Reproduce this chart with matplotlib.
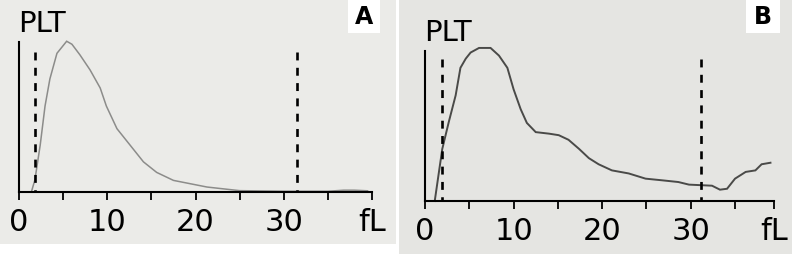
import matplotlib
matplotlib.use("Agg")
import matplotlib.pyplot as plt
from matplotlib.patches import Rectangle

# panel A: PLT histogram, relative height vs volume (fL)
a_x = [1.4, 1.8, 2.4, 2.95, 3.5, 4.3, 5.4, 6.0, 6.9, 8.05, 9.2, 9.9, 11.1, 12.6,
       14.1, 15.6, 17.5, 19.4, 21.3, 23.6, 25.0, 30.0, 35.0, 36.8, 38.0, 39.5]
a_y = [0.0, 0.08, 0.31, 0.57, 0.75, 0.92, 1.0, 0.98, 0.91, 0.81, 0.69, 0.57, 0.42, 0.31,
       0.20, 0.13, 0.077, 0.055, 0.033, 0.018, 0.009, 0.005, 0.005, 0.012, 0.012, 0.008]
a_marks = [1.8, 31.5]

# panel B
b_x = [1.1, 1.95, 2.7, 3.46, 4.0, 4.6, 5.15, 6.1, 7.4, 8.35, 9.3, 10.0, 10.8, 11.5,
       12.5, 14.0, 15.1, 16.2, 17.4, 18.5, 19.6, 21.1, 23.0, 24.9, 26.8, 28.6, 29.8,
       32.4, 33.3, 34.1, 35.0, 36.2, 37.3, 38.0, 39.0]
b_y = [0.0, 0.34, 0.52, 0.69, 0.87, 0.93, 0.97, 1.0, 1.0, 0.95, 0.87, 0.73, 0.60, 0.51,
       0.45, 0.44, 0.43, 0.40, 0.34, 0.28, 0.24, 0.20, 0.18, 0.146, 0.135, 0.124, 0.107,
       0.10, 0.074, 0.08, 0.146, 0.19, 0.20, 0.24, 0.25]
b_marks = [1.95, 31.2]

tick_pos = [0, 5, 10, 15, 20, 25, 30, 35]
tick_lab = ["0", "", "10", "", "20", "", "30", ""]

W, H = 792, 255
fig = plt.figure(figsize=(W / 100, H / 100), dpi=100)
fig.patch.set_facecolor("white")

FONT = ["DejaVu Sans Condensed", "DejaVu Sans"]


def px_box(x0, y0, x1, y1):
    # pixel box (top-left origin) -> figure fraction rect
    return [x0 / W, 1 - y1 / H, (x1 - x0) / W, (y1 - y0) / H]


def panel(bg_box, bg_color, ax_box, xmax, ymax, xs, ys, marks, line_color, lw,
          letter, letter_box, plt_xy):
    bg = fig.add_axes(px_box(*bg_box))
    bg.set_facecolor(bg_color)
    bg.set_xticks([])
    bg.set_yticks([])
    for s in bg.spines.values():
        s.set_visible(False)

    ax = fig.add_axes(px_box(*ax_box))
    ax.set_facecolor("none")
    ax.plot(xs, ys, color=line_color, lw=lw, clip_on=False, solid_joinstyle="miter")
    for m in marks:
        ax.plot([m, m], [0.93, 0], color="black", lw=1.9, ls=(0, (3.0, 2.8)))
    ax.set_xlim(0, xmax)
    ax.set_ylim(0, ymax)
    ax.spines["top"].set_visible(False)
    ax.spines["right"].set_visible(False)
    ax.spines["left"].set_linewidth(1.5)
    ax.spines["bottom"].set_linewidth(1.5)
    ax.set_yticks([])
    ax.set_xticks(tick_pos + [xmax])
    ax.set_xticklabels(tick_lab + ["fL"], fontsize=22, family=FONT)
    ax.tick_params(axis="x", direction="out", length=6, width=1.3, pad=5)

    fig.text(plt_xy[0] / W, 1 - plt_xy[1] / H, "PLT", fontsize=21, family=FONT,
             ha="left", va="top")

    x0, y0, x1, y1 = letter_box
    fig.patches.append(Rectangle((x0 / W, 1 - y1 / H), (x1 - x0) / W, (y1 - y0) / H,
                                 transform=fig.transFigure, facecolor="white",
                                 edgecolor="none", zorder=3))
    fig.text((x0 + x1) / 2 / W, 1 - (y0 + y1) / 2 / H, letter, fontsize=17,
             fontweight="bold", ha="center", va="center", zorder=4)


panel((0, 0, 396, 245), "#ebebe8", (19, 43, 372, 193), 40, 0.995,
      a_x, a_y, a_marks, "#8c8c8a", 1.1, "A", (348, 0, 380, 34), (18, 10))
panel((399, 0, 792, 255), "#e5e5e2", (425, 52, 774, 202), 39.4, 0.98,
      b_x, b_y, b_marks, "#4a4a48", 1.4, "B", (746, 0, 780, 34), (424, 19))

fig.savefig("out.png", dpi=100)
